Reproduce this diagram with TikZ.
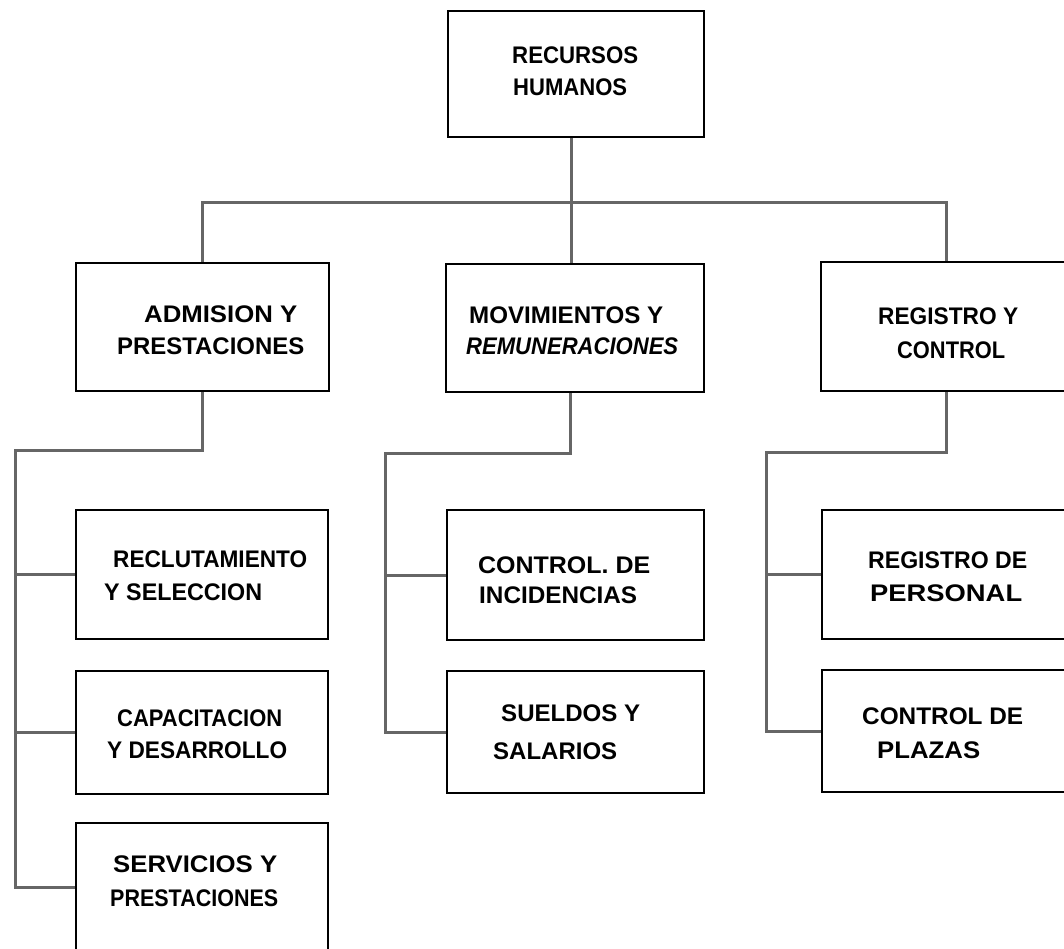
\documentclass[tikz,border=0pt]{standalone}
\usepackage{fontspec}
\usepackage{graphicx}
\setmainfont{Liberation Sans}
% set a line of capitals to a given width, keeping its height
\newcommand\fitw[2]{\resizebox{#1pt}{\height}{#2}}
\begin{document}
\begin{tikzpicture}[x=1pt,y=-1pt,
  unit/.style={draw=black, line width=2.2pt, inner sep=0pt, rectangle},
  link/.style={draw=black!60, line width=3pt, line join=miter},
  lbl/.style={inner sep=0pt, anchor=west, font=\fontsize{24}{28}\selectfont\bfseries}]
\useasboundingbox (0,0) rectangle (1064,949);
\clip (0,0) rectangle (1064,949);

% ---- boxes
\node[unit, minimum width=256pt, minimum height=126pt] (rh)  at (576,74) {};
\node[unit, minimum width=253pt, minimum height=128pt] (adm) at (202.5,327) {};
\node[unit, minimum width=258pt, minimum height=128pt] (mov) at (575,328) {};
\node[unit, minimum width=250pt, minimum height=129pt] (reg) at (946,326.5) {};
\node[unit, minimum width=252pt, minimum height=129pt] (rec) at (202,574.5) {};
\node[unit, minimum width=252pt, minimum height=123pt] (cap) at (202,732.5) {};
\node[unit, minimum width=252pt, minimum height=128pt] (ser) at (202,887) {};
\node[unit, minimum width=257pt, minimum height=130pt] (ctl) at (575.5,575) {};
\node[unit, minimum width=257pt, minimum height=122pt] (sue) at (575.5,732) {};
\node[unit, minimum width=250pt, minimum height=129pt] (rgp) at (947,574.5) {};
\node[unit, minimum width=250pt, minimum height=122pt] (cpl) at (947,731) {};

% ---- connectors
\coordinate (top) at (571,203);
\coordinate (la) at (15,450);
\coordinate (ma) at (570,453);
\coordinate (lm) at (385,453);
\coordinate (ra) at (946,452);
\coordinate (lr) at (766,452);

\draw[link] (rh.south -| top) -- (mov.north -| top);
\draw[link] (adm.north) |- (top) -| (reg.north);

\draw[link] (adm.south) |- (la) |- (ser.west);
\draw[link] (la |- rec.west) -- (rec.west);
\draw[link] (la |- cap.west) -- (cap.west);

\draw[link] (mov.south -| ma) -- (ma) -- (lm) |- (sue.west);
\draw[link] (lm |- ctl.west) -- (ctl.west);

\draw[link] (reg.south) |- (lr) |- (cpl.west);
\draw[link] (lr |- rgp.west) -- (rgp.west);

% ---- box texts
\node[lbl] (t1)  at (512,55)  {\fitw{126}{RECURSOS}};
\node[lbl] (t2)  at (513,87)  {\fitw{114}{HUMANOS}};
\node[lbl] (t3)  at (144,314) {\fitw{153}{ADMISION Y}};
\node[lbl] (t4)  at (117,346) {\fitw{187}{PRESTACIONES}};
\node[lbl] (t5)  at (469,315) {\fitw{194}{MOVIMIENTOS Y}};
\node[lbl] (t6)  at (466,346) {\fitw{212}{\itshape REMUNERACIONES}};
\node[lbl] (t7)  at (878,316) {\fitw{140}{REGISTRO Y}};
\node[lbl] (t8)  at (897,350) {\fitw{108}{CONTROL}};
\node[lbl] (t9)  at (113,559) {\fitw{194}{RECLUTAMIENTO}};
\node[lbl] (t10) at (104,592) {\fitw{158}{Y SELECCION}};
\node[lbl] (t11) at (117,718) {\fitw{165}{CAPACITACION}};
\node[lbl] (t12) at (107,750) {\fitw{180}{Y DESARROLLO}};
\node[lbl] (t13) at (113,864) {\fitw{164}{SERVICIOS Y}};
\node[lbl] (t14) at (110,898) {\fitw{168}{PRESTACIONES}};
\node[lbl] (t15) at (478,565) {\fitw{172}{CONTROL. DE}};
\node[lbl] (t16) at (479,595) {\fitw{158}{INCIDENCIAS}};
\node[lbl] (t17) at (501,713) {\fitw{139}{SUELDOS Y}};
\node[lbl] (t18) at (493,751) {\fitw{124}{SALARIOS}};
\node[lbl] (t19) at (868,560) {\fitw{159}{REGISTRO DE}};
\node[lbl] (t20) at (870,593) {\fitw{152}{PERSONAL}};
\node[lbl] (t21) at (862,716) {\fitw{161}{CONTROL DE}};
\node[lbl] (t22) at (877,750) {\fitw{103}{PLAZAS}};
\end{tikzpicture}
\end{document}
